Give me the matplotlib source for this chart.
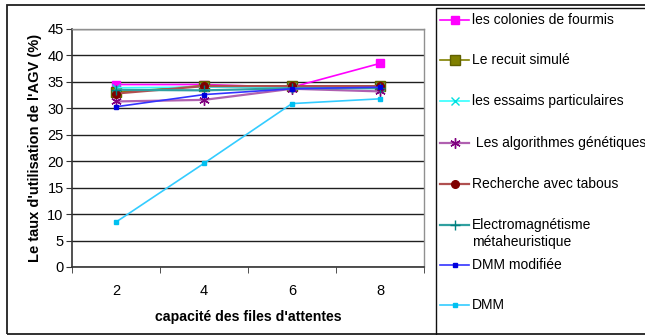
import matplotlib
matplotlib.use("Agg")
import matplotlib.pyplot as plt
from matplotlib.lines import Line2D
from matplotlib.patches import Rectangle

plt.rcParams['font.family'] = ['Liberation Sans', 'DejaVu Sans']

capacities = ["2", "4", "6", "8"]
colonies = [34.5, 34.5, 34.0, 38.5]
recuit = [33.0, 34.3, 34.2, 34.2]
essaims = [33.9, 34.0, 34.0, 34.0]
genetiques = [31.3, 31.6, 33.7, 33.2]
tabous = [32.8, 34.2, 34.2, 34.2]
electro = [33.5, 33.4, 33.8, 33.8]
dmm_modifiee = [30.3, 32.6, 33.7, 34.0]
dmm = [8.5, 19.6, 30.9, 31.8]

labels = ["les colonies de fourmis", "Le recuit simulé", "les essaims particulaires",
          " Les algorithmes génétiques", "Recherche avec tabous",
          "Electromagnétisme\nmétaheuristique", "DMM modifiée", "DMM"]
series = [colonies, recuit, essaims, genetiques, tabous, electro, dmm_modifiee, dmm]
styles = [
    dict(color="#FF00FF", marker="s", ms=6, mfc="#FF00FF", mec="#FF00FF", lw=1.2),
    dict(color="#808000", marker="s", ms=6.5, mfc="#808000", mec="#606000", lw=1.2),
    dict(color="#33FFFF", marker="x", ms=5.5, mfc="#00E0E0", mec="#00E0E0", lw=1.2),
    dict(color="#B060B0", marker=(6, 2, 0), ms=7.5, mfc="#800080", mec="#800080", lw=1.6),
    dict(color="#B05050", marker="o", ms=5.5, mfc="#800000", mec="#800000", lw=1.6),
    dict(color="#30A0A0", marker="+", ms=6.5, mfc="#008080", mec="#008080", lw=1.6),
    dict(color="#3333FF", marker="s", ms=3, mfc="#0000DD", mec="#0000DD", lw=1.2),
    dict(color="#33CCFF", marker="s", ms=3, mfc="#00C0F0", mec="#00C0F0", lw=1.2),
]

W, H = 645, 335
fig = plt.figure(figsize=(W / 100, H / 100), dpi=100)
fig.patch.set_facecolor("white")

# outer chart frame
fig.patches.append(Rectangle((7 / W, 1 - 334 / H), (W + 5 - 7) / W, (334 - 5) / H,
                             transform=fig.transFigure, fill=False, ec="#202020", lw=1.3))

ax = fig.add_axes([72 / W, 1 - 267 / H, (424 - 72) / W, (267 - 29) / H])
x = list(range(len(capacities)))
for vals, st in zip(series, styles):
    ax.plot(x, vals, zorder=3, **st)

ax.set_xlim(-0.5, len(capacities) - 0.5)
ax.set_ylim(0, 45)
ax.set_yticks(range(0, 46, 5))
ax.set_xticks(x)
ax.set_xticklabels(capacities)
ax.set_xticks([i - 0.5 for i in range(len(capacities) + 1)], minor=True)
ax.tick_params(axis="x", which="major", length=0, pad=12, labelsize=10.5)
ax.tick_params(axis="x", which="minor", length=4, direction="out", color="#333333")
ax.tick_params(axis="y", length=4, direction="out", labelsize=10.5, color="#333333", pad=2)
ax.grid(axis="y", color="#202020", lw=1.0)
ax.set_axisbelow(True)
for s in ["top", "right"]:
    ax.spines[s].set_color("#909090")
    ax.spines[s].set_linewidth(1.0)
for s in ["left", "bottom"]:
    ax.spines[s].set_color("#333333")
    ax.spines[s].set_linewidth(1.2)

ax.set_xlabel("capacité des files d'attentes", fontsize=10.2, fontweight="bold", labelpad=9)
ax.set_ylabel("Le taux d'utilisation de l'AGV (%)", fontsize=10.5, fontweight="bold", labelpad=4)

# legend box
fig.patches.append(Rectangle((436 / W, 1 - 345 / H), (W + 5 - 436) / W, (345 - 8) / H,
                             transform=fig.transFigure, fill=False, ec="#101010", lw=1.0))
ys = [20, 60, 101, 143, 184, 225, 265, 305]
for lab, st, yy in zip(labels, styles, ys):
    yf = 1 - yy / H
    fig.add_artist(Line2D([440 / W, 469 / W], [yf, yf], transform=fig.transFigure,
                          color=st["color"], lw=st["lw"]))
    fig.add_artist(Line2D([455 / W], [yf], transform=fig.transFigure, marker=st["marker"],
                          ms=st["ms"], mfc=st["mfc"], mec=st["mec"], lw=0))
    fig.text(472 / W, yf + 7 / H, lab, fontsize=10, va="top", ha="left", linespacing=1.3)

fig.savefig("out.png", dpi=100)
